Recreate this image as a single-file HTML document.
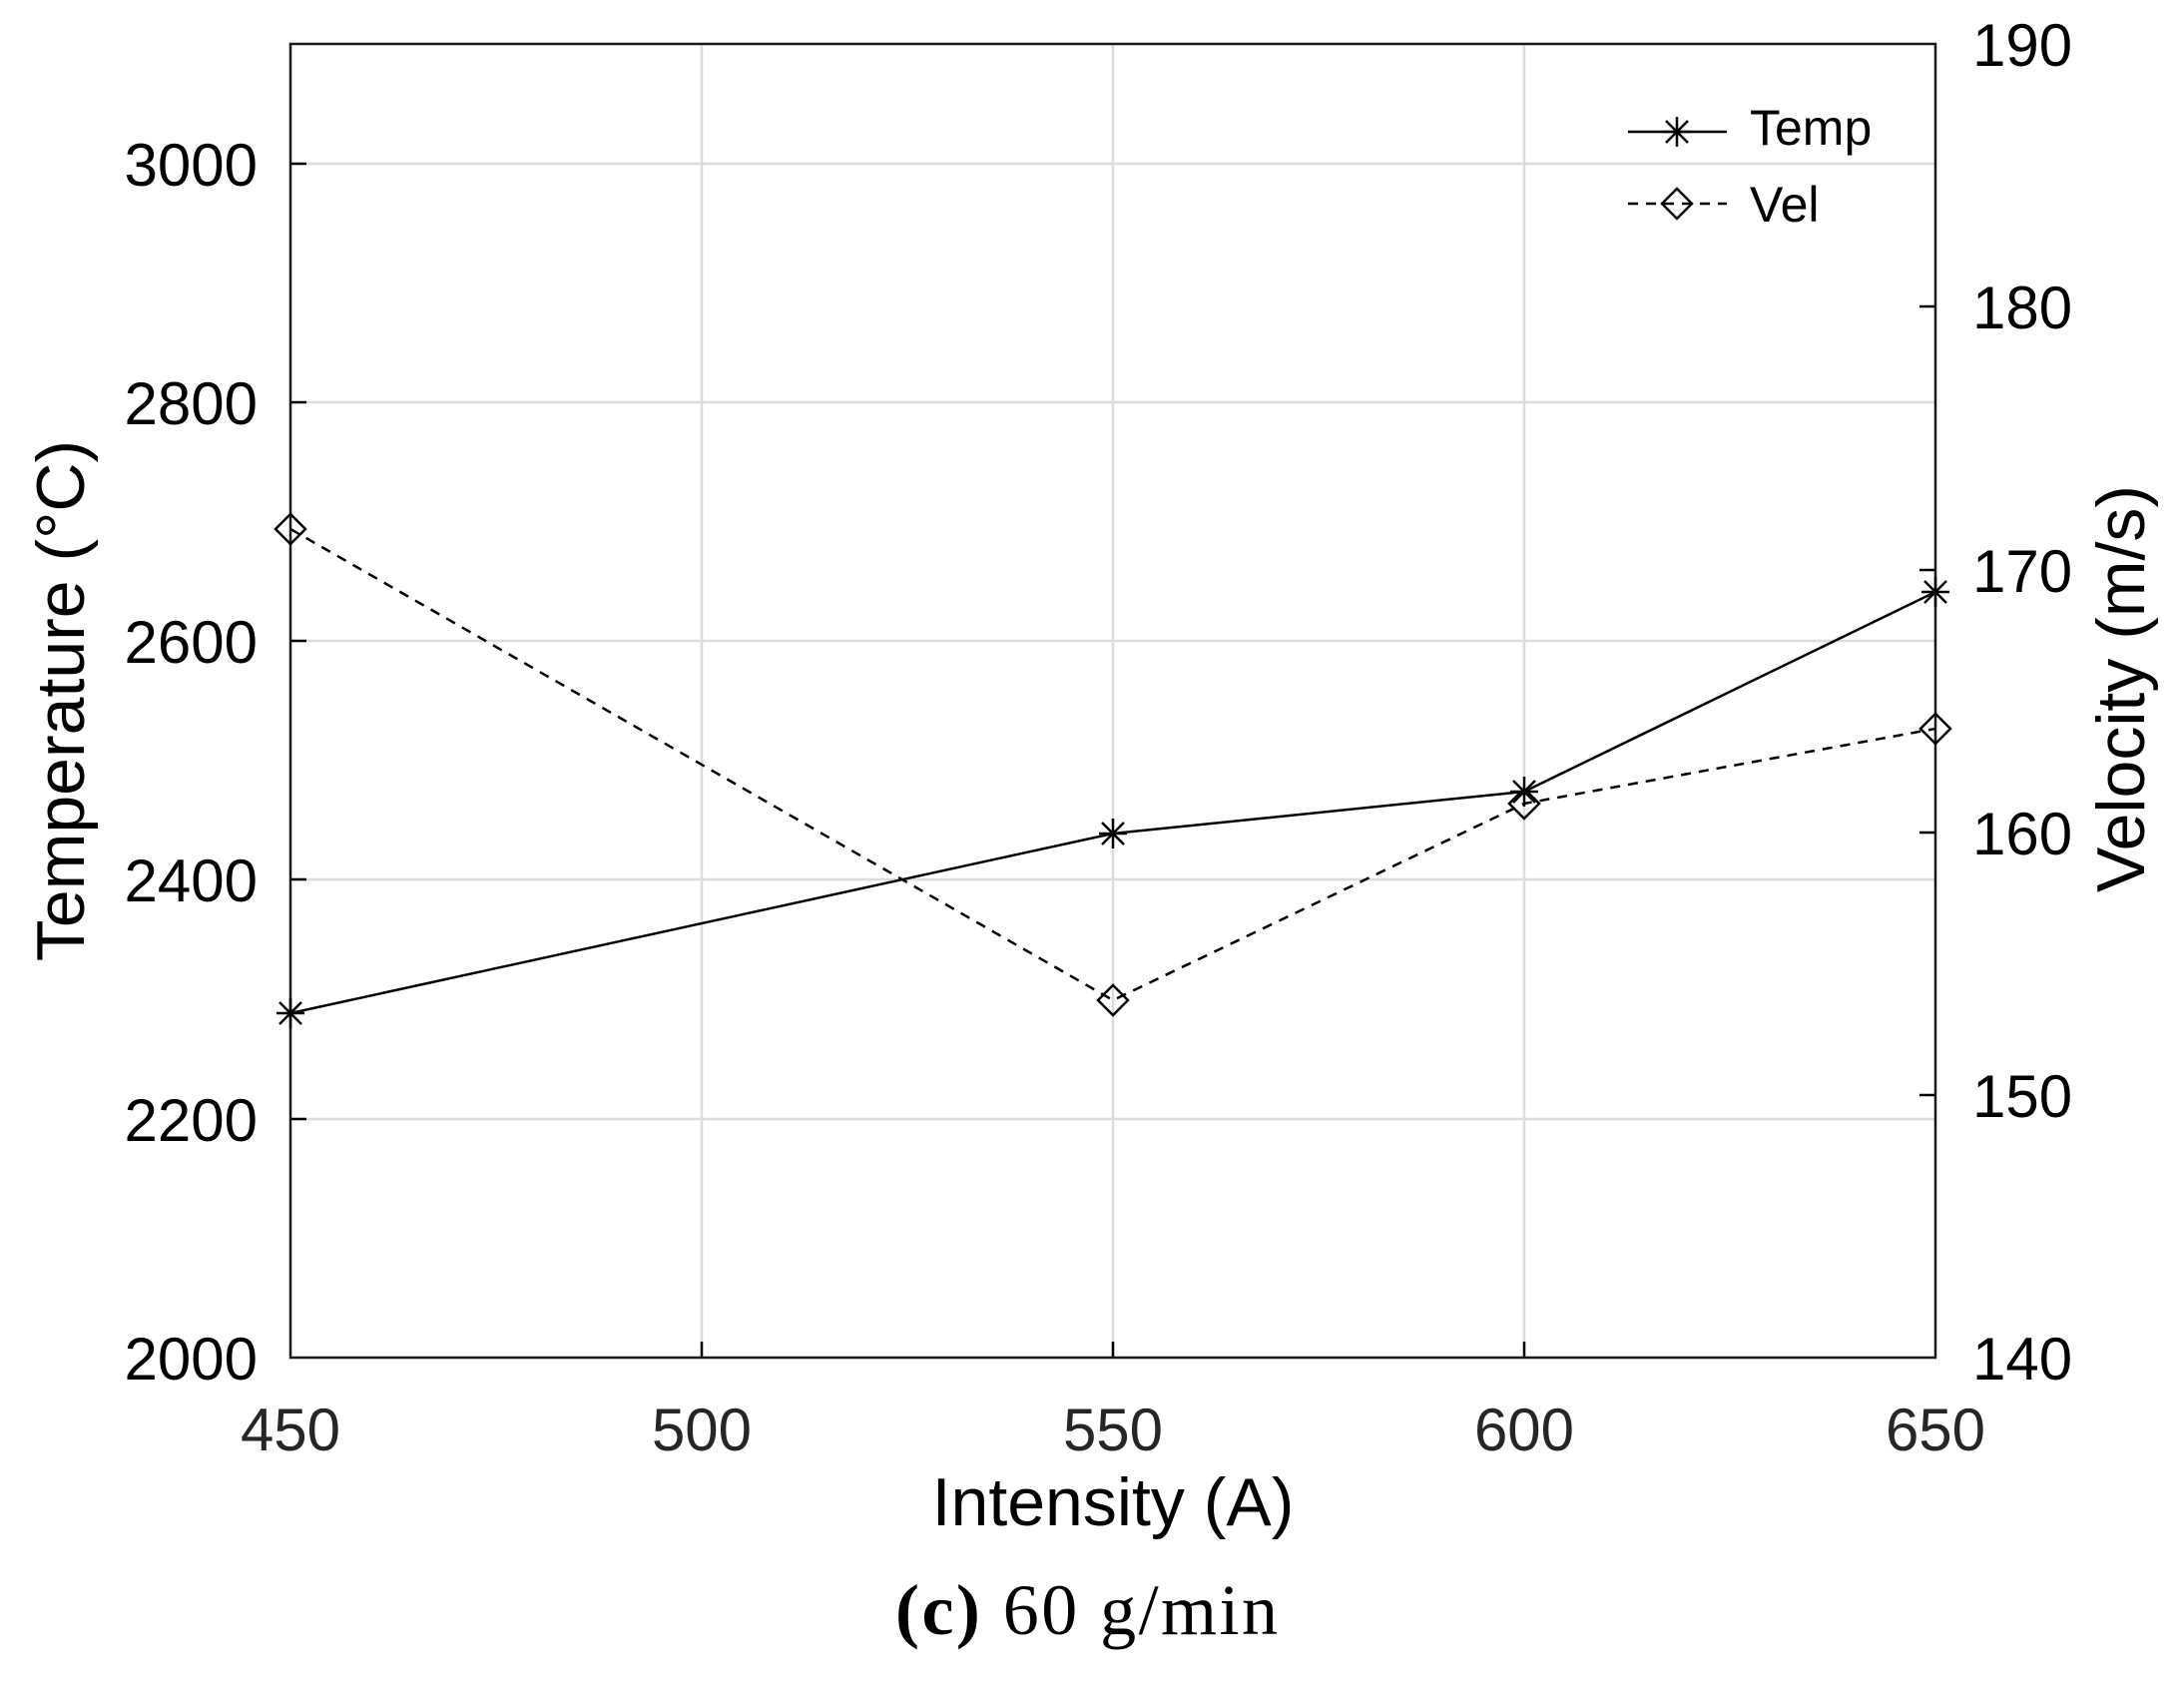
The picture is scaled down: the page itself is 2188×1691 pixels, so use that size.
<!DOCTYPE html>
<html><head><meta charset="utf-8"><style>html,body{margin:0;padding:0;background:#fff}</style></head>
<body>
<svg width="2188" height="1686" viewBox="0 0 2188 1686" xmlns="http://www.w3.org/2000/svg">
<rect width="2188" height="1686" fill="#fff"/>
<g stroke="#dcdcdc" stroke-width="2.5">
<line x1="703" y1="44" x2="703" y2="1360"/>
<line x1="1115" y1="44" x2="1115" y2="1360"/>
<line x1="1527" y1="44" x2="1527" y2="1360"/>
<line x1="291" y1="164" x2="1939" y2="164"/>
<line x1="291" y1="403" x2="1939" y2="403"/>
<line x1="291" y1="642" x2="1939" y2="642"/>
<line x1="291" y1="881" x2="1939" y2="881"/>
<line x1="291" y1="1121" x2="1939" y2="1121"/>
</g>
<g stroke="#000" stroke-width="2.5">
<line x1="291" y1="164" x2="307" y2="164"/><line x1="291" y1="403" x2="307" y2="403"/><line x1="291" y1="642" x2="307" y2="642"/><line x1="291" y1="881" x2="307" y2="881"/><line x1="291" y1="1121" x2="307" y2="1121"/>
<line x1="1923" y1="1097" x2="1939" y2="1097"/><line x1="1923" y1="834" x2="1939" y2="834"/><line x1="1923" y1="571" x2="1939" y2="571"/><line x1="1923" y1="307" x2="1939" y2="307"/>
<line x1="703" y1="1360" x2="703" y2="1344"/><line x1="1115" y1="1360" x2="1115" y2="1344"/><line x1="1527" y1="1360" x2="1527" y2="1344"/>
</g>
<rect x="291" y="44" width="1648" height="1316" fill="none" stroke="#1a1a1a" stroke-width="2.5"/>
<g font-family="Liberation Sans, sans-serif" font-size="60" fill="#000">
<g text-anchor="end">
<text x="258" y="186">3000</text><text x="258" y="425">2800</text><text x="258" y="664">2600</text><text x="258" y="903">2400</text><text x="258" y="1143">2200</text><text x="258" y="1382">2000</text>
</g>
<g text-anchor="start">
<text x="1976" y="66">190</text><text x="1976" y="329">180</text><text x="1976" y="593">170</text><text x="1976" y="856">160</text><text x="1976" y="1119">150</text><text x="1976" y="1382">140</text>
</g>
<g text-anchor="middle" fill="#262626">
<text x="291" y="1453">450</text><text x="703" y="1453">500</text><text x="1115" y="1453">550</text><text x="1527" y="1453">600</text><text x="1939" y="1453">650</text>
</g>
<text x="1115" y="1528" text-anchor="middle" font-size="68">Intensity (A)</text>
<text transform="translate(84,702) rotate(-90)" text-anchor="middle" font-size="68">Temperature (°C)</text>
<text transform="translate(2148,690) rotate(-90)" text-anchor="middle" font-size="68">Velocity (m/s)</text>
<text x="1753" y="145" font-size="50">Temp</text>
<text x="1753" y="222" font-size="50">Vel</text>
</g>
<text x="897" y="1637" font-family="Liberation Serif, serif" font-size="72" textLength="383" lengthAdjust="spacing"><tspan font-weight="bold">(c)</tspan> 60 g/min</text>
<polyline points="291,1015 1115,835 1527,793 1939,593" fill="none" stroke="#000" stroke-width="2.5"/>
<polyline points="291,530 1115,1002 1527,805 1939,730" fill="none" stroke="#000" stroke-width="2.5" stroke-dasharray="10,8"/>
<defs>
<g id="st" stroke="#000" stroke-width="2.5"><line x1="-14" y1="0" x2="14" y2="0"/><line x1="0" y1="-15" x2="0" y2="15"/><line x1="-11" y1="-11" x2="11" y2="11"/><line x1="-11" y1="11" x2="11" y2="-11"/></g>
<polygon id="dm" points="0,-15 15,0 0,15 -15,0" fill="none" stroke="#000" stroke-width="2.5"/>
</defs>
<use href="#st" x="291" y="1015"/><use href="#st" x="1115" y="835"/><use href="#st" x="1527" y="793"/><use href="#st" x="1939" y="593"/>
<use href="#dm" x="291" y="530"/><use href="#dm" x="1115" y="1002"/><use href="#dm" x="1527" y="805"/><use href="#dm" x="1939" y="730"/>
<line x1="1631" y1="132" x2="1730" y2="132" stroke="#000" stroke-width="2.5"/>
<use href="#st" x="1680" y="132"/>
<line x1="1631" y1="204" x2="1730" y2="204" stroke="#000" stroke-width="2.5" stroke-dasharray="10,8"/>
<use href="#dm" x="1680" y="204"/>
</svg>
</body></html>
